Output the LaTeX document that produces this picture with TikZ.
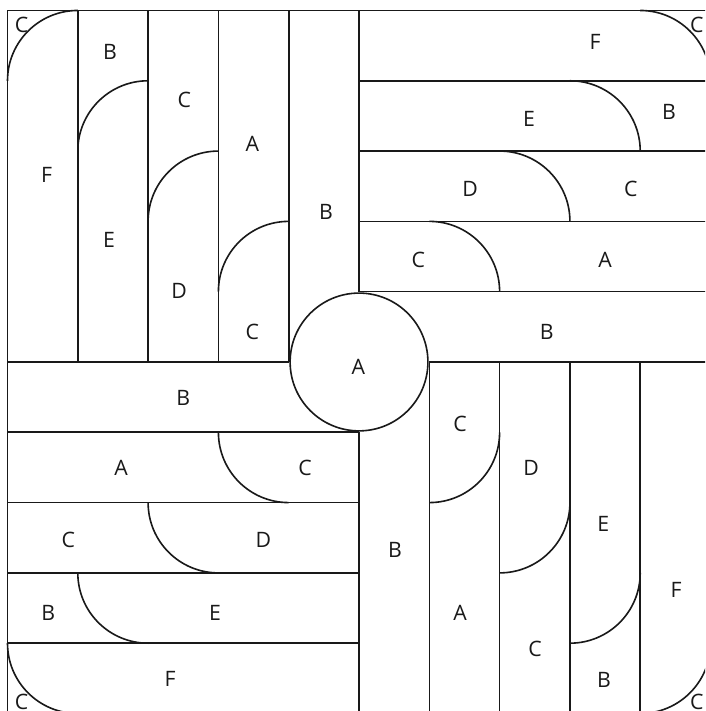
\documentclass[tikz,border=0pt]{standalone}
\usepackage{fontspec}
\setmainfont{Open Sans}
\begin{document}
\begin{tikzpicture}[
  x=1cm, y=1cm,
  edge/.style={draw=black!90, line width=0.65pt},
  lbl/.style={font=\fontsize{8.6}{10}\selectfont, text=black!90, inner sep=0pt}
]
\useasboundingbox (-0.1067,0.0356) rectangle (9.922,10.149);
\clip (-0.1067,0.0356) rectangle (9.922,10.149);
\fill[white] (-0.1067,0.0356) rectangle (9.922,10.149);

% outer square
\draw[edge] (0,0) rectangle (10,10);

% central circle
\node[circle, edge, minimum size=1.96cm, inner sep=0pt] (hub) at (5,5) {};

% top-left quadrant: vertical strips
\foreach \x in {1,2,3,4} \draw[edge] (\x,10) -- (\x,5);
\draw[edge] (5,10) -- (hub.north);
\draw[edge] (0,5) -- (hub.west);
\foreach \k in {0,1,2,3}
  \draw[edge] (\k,{9-\k}) arc[start angle=180, end angle=90, radius=1];

% top-right quadrant: horizontal strips
\foreach \y in {6,7,8,9} \draw[edge] (5,\y) -- (10,\y);
\draw[edge] (hub.east) -- (10,5);
\foreach \j in {0,1,2,3}
  \draw[edge] ({9-\j},{10-\j}) arc[start angle=90, end angle=0, radius=1];

% bottom-right quadrant: vertical strips
\foreach \x in {6,7,8,9} \draw[edge] (\x,5) -- (\x,0);
\draw[edge] (hub.south) -- (5,0);
\foreach \i in {0,1,2,3}
  \draw[edge] ({10-\i},{1+\i}) arc[start angle=0, end angle=-90, radius=1];

% bottom-left quadrant: horizontal strips
\foreach \y in {1,2,3,4} \draw[edge] (0,\y) -- (5,\y);
\foreach \m in {0,1,2,3}
  \draw[edge] (\m,{1+\m}) arc[start angle=180, end angle=270, radius=1];

% labels: top-left
\node[lbl] (tl0c) at (0.20,9.79) {C};
\node[lbl] (tl0f) at (0.558,7.660) {F};
\node[lbl] (tl1b) at (1.458,9.414) {B};
\node[lbl] (tl1e) at (1.444,6.735) {E};
\node[lbl] (tl2c) at (2.515,8.727) {C};
\node[lbl] (tl2d) at (2.440,6.014) {D};
\node[lbl] (tl3a) at (3.482,8.101) {A};
\node[lbl] (tl3c) at (3.482,5.431) {C};
\node[lbl] (tl4b) at (4.531,7.138) {B};

% labels: top-right
\node[lbl] (tr0f) at (8.357,9.556) {F};
\node[lbl] (tr0c) at (9.804,9.794) {C};
\node[lbl] (tr1e) at (7.418,8.457) {E};
\node[lbl] (tr1b) at (9.410,8.552) {B};
\node[lbl] (tr2d) at (6.579,7.461) {D};
\node[lbl] (tr2c) at (8.865,7.461) {C};
\node[lbl] (tr3c) at (5.843,6.451) {C};
\node[lbl] (tr3a) at (8.499,6.451) {A};
\node[lbl] (tr4b) at (7.670,5.431) {B};

% labels: bottom-left
\node[lbl] (bl4b) at (2.501,4.484) {B};
\node[lbl] (bl3a) at (1.615,3.488) {A};
\node[lbl] (bl3c) at (4.232,3.488) {C};
\node[lbl] (bl2c) at (0.865,2.468) {C};
\node[lbl] (bl2d) at (3.639,2.468) {D};
\node[lbl] (bl1b) at (0.580,1.425) {B};
\node[lbl] (bl1e) at (2.952,1.425) {E};
\node[lbl] (bl0f) at (2.312,0.486) {F};
\node[lbl] (bl0c) at (0.202,0.168) {C};

% labels: bottom-right and centre
\node[lbl] (hubA) at (4.990,4.933) {A};
\node[lbl] (br3c) at (6.437,4.118) {C};
\node[lbl] (br3a) at (6.437,1.425) {A};
\node[lbl] (br2d) at (7.447,3.488) {D};
\node[lbl] (br2c) at (7.504,0.913) {C};
\node[lbl] (br4b) at (5.512,2.326) {B};
\node[lbl] (br1e) at (8.475,2.696) {E};
\node[lbl] (br1b) at (8.485,0.477) {B};
\node[lbl] (br0f) at (9.509,1.757) {F};
\node[lbl] (br0c) at (9.804,0.168) {C};
\end{tikzpicture}
\end{document}
